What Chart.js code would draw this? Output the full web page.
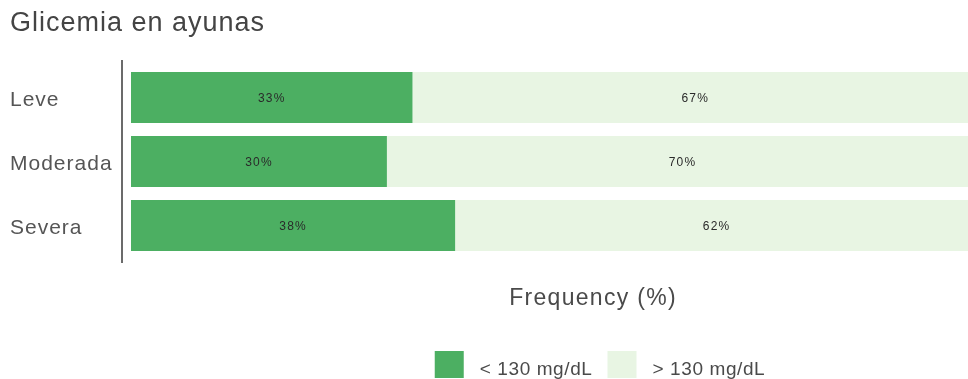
<!DOCTYPE html>
<html>
<head>
<meta charset="utf-8">
<script src="https://cdn.jsdelivr.net/npm/chart.js@4"></script>
<style>
html,body{margin:0;padding:0;background:#fff;overflow:hidden;width:968px;height:379px;}
#wrap{width:984px;height:379px;position:relative;}
</style>
</head>
<body>
<div id="wrap"><canvas id="c"></canvas></div>
<script>
const categories = ["Leve", "Moderada", "Severa"];
const seriesNames = ["< 130 mg/dL", "> 130 mg/dL"];
const below130 = [33, 30, 38];
const above130 = [67, 70, 62];
const chartTitle = "Glicemia en ayunas";
const xTitle = "Frequency (%)";

const colors = ["#4caf62", "#e8f5e3"];
const FONT = "'Liberation Sans', Arial, sans-serif";

const customDraw = {
  id: 'customDraw',
  beforeDraw(chart) {
    chart.ctx.letterSpacing = '1px';
  },
  afterDatasetsDraw(chart) {
    const ctx = chart.ctx;
    ctx.save();
    ctx.letterSpacing = '1.2px';
    ctx.font = "12px " + FONT;
    ctx.fillStyle = '#2a2a2a';
    ctx.textAlign = 'center';
    ctx.textBaseline = 'middle';
    chart.data.datasets.forEach((ds, di) => {
      const meta = chart.getDatasetMeta(di);
      meta.data.forEach((bar, i) => {
        const cx = (bar.x + bar.base) / 2 - (di === 1 ? 3 : 0);
        ctx.fillText(ds.data[i] + '%', cx, bar.y + 1);
      });
    });
    ctx.restore();
  },
  afterDraw(chart) {
    const ctx = chart.ctx;
    const ca = chart.chartArea;
    ctx.save();
    // vertical axis line
    ctx.strokeStyle = '#3a3a3a';
    ctx.lineWidth = 1.5;
    ctx.beginPath();
    ctx.moveTo(ca.left - 9, ca.top - 5.5);
    ctx.lineTo(ca.left - 9, ca.bottom + 5.5);
    ctx.stroke();
    // x axis title
    ctx.letterSpacing = '1.3px';
    ctx.font = "23px " + FONT;
    ctx.fillStyle = '#4a4a4a';
    ctx.textAlign = 'center';
    ctx.textBaseline = 'alphabetic';
    ctx.fillText(xTitle, 593, 305);
    // legend
    ctx.letterSpacing = '0.6px';
    ctx.font = "19px " + FONT;
    ctx.textAlign = 'left';
    const boxW = 29, boxH = 27, gapText = 16, gapItem = 15;
    const items = chart.data.datasets.map(ds => ({label: ds.label, color: ds.backgroundColor, w: ctx.measureText(ds.label).width}));
    let total = 0;
    items.forEach((it, k) => { total += boxW + gapText + it.w + (k < items.length - 1 ? gapItem : 0); });
    let x = 600 - total / 2;
    items.forEach(it => {
      ctx.fillStyle = it.color;
      ctx.fillRect(x, 351, boxW, boxH);
      x += boxW + gapText;
      ctx.fillStyle = '#4a4a4a';
      ctx.fillText(it.label, x, 375);
      x += it.w + gapItem;
    });
    ctx.restore();
  }
};

new Chart(document.getElementById('c'), {
  type: 'bar',
  data: {
    labels: categories,
    datasets: [
      { label: seriesNames[0], data: below130, backgroundColor: colors[0], borderWidth: 0,
        categoryPercentage: 1, barPercentage: 0.797 },
      { label: seriesNames[1], data: above130, backgroundColor: colors[1], borderWidth: 0,
        categoryPercentage: 1, barPercentage: 0.797 }
    ]
  },
  options: {
    indexAxis: 'y',
    responsive: true,
    maintainAspectRatio: false,
    animation: false,
    layout: { padding: { left: 10, right: 0, top: 0, bottom: 121.5 } },
    plugins: {
      legend: { display: false },
      tooltip: { enabled: false },
      title: {
        display: true,
        text: chartTitle,
        align: 'start',
        color: '#444',
        font: { family: FONT, size: 27, weight: 'normal', lineHeight: 1.2 },
        padding: { top: 7, bottom: 26.1 }
      }
    },
    scales: {
      x: { stacked: true, min: 0, max: 100, display: false },
      y: {
        stacked: true,
        grid: { display: false },
        border: { display: false },
        ticks: {
          crossAlign: 'far',
          color: '#555',
          padding: 10,
          labelOffset: 2.5,
          font: { family: FONT, size: 21 }
        },
        afterFit(scale) { scale.width = 121; }
      }
    }
  },
  plugins: [customDraw]
});
</script>
</body>
</html>
